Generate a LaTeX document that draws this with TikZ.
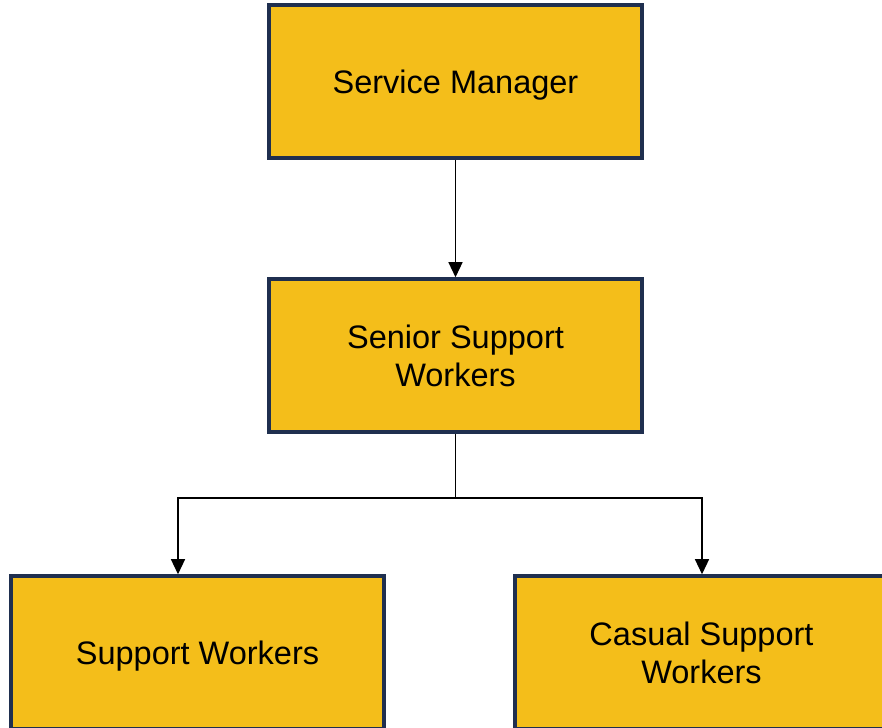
\documentclass[tikz,border=0pt]{standalone}
\usepackage{fontspec}
\setmainfont{Liberation Sans}
\usetikzlibrary{arrows.meta}

\definecolor{boxfill}{HTML}{F4BE1A}
\definecolor{boxline}{HTML}{1F2F4F}

\tikzset{
	rolebox/.style={draw=boxline, fill=boxfill, line width=2pt, minimum width=7.46cm, minimum height=3.06cm, align=center, text depth=-2pt, font=\fontsize{18.5}{21.5}\selectfont},
	link/.style={line width=0.7pt, -{Triangle[length=0.3cm,width=0.28cm]}}
}

\begin{document}
\begin{tikzpicture}
		\useasboundingbox (0,0) rectangle (17.64,-14.56);

		\node[rolebox] (manager) at (9.11,-1.63) {Service Manager};
		\node[rolebox] (senior) at (9.11,-7.11) {Senior Support\\Workers};
		\node[rolebox] (support) at (3.95,-13.05) {Support Workers};
		\node[rolebox] (casual) at (14.03,-13.05) {Casual Support\\Workers};

		\coordinate (split) at (9.11,-9.96);
		\coordinate (leftturn) at (3.56,-9.96);
		\coordinate (rightturn) at (14.04,-9.96);

		\draw[link] (manager) -- (senior);
		\draw[line width=0.7pt] (senior.south) -- (split);
		\draw[link] (split) -- (leftturn) -- (leftturn |- support.north);
		\draw[link] (split) -- (rightturn) -- (rightturn |- casual.north);
	\end{tikzpicture}
\end{document}
